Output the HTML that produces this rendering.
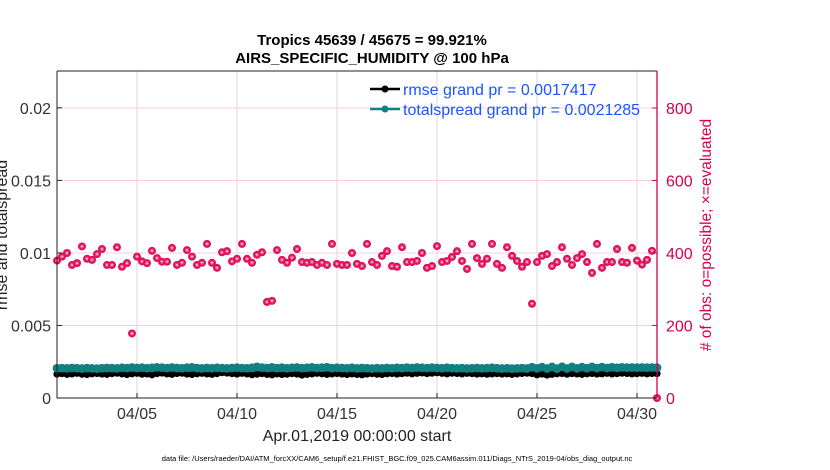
<!DOCTYPE html>
<html><head><meta charset="utf-8">
<style>
html,body{margin:0;padding:0;background:#fff;}
svg{display:block;font-family:"Liberation Sans",Arial,sans-serif;}
</style></head>
<body>
<svg id="chart" width="830" height="470" viewBox="0 0 830 470">
  <text x="372" y="45" text-anchor="middle" font-size="15" font-weight="bold">Tropics 45639 / 45675 = 99.921%</text>
  <text x="372" y="63" text-anchor="middle" font-size="15" font-weight="bold">AIRS_SPECIFIC_HUMIDITY @ 100 hPa</text>
  <g id="grid"></g>
  <g id="marks"></g>
  <g id="axes"></g>
  <text transform="translate(7,235) rotate(-90)" text-anchor="middle" font-size="16" fill="#222">rmse and totalspread</text>
  <text transform="translate(711,235) rotate(-90)" text-anchor="middle" font-size="15.5" fill="#d6004f"># of obs: o=possible; ×=evaluated</text>
  <text x="357" y="441" text-anchor="middle" font-size="16" fill="#222">Apr.01,2019 00:00:00 start</text>
  <text x="397" y="461" text-anchor="middle" font-size="7.5" fill="#000">data file: /Users/raeder/DAI/ATM_forcXX/CAM6_setup/f.e21.FHIST_BGC.f09_025.CAM6assim.011/Diags_NTrS_2019-04/obs_diag_output.nc</text>
  <g>
    <line x1="370" y1="89" x2="400" y2="89" stroke="#000" stroke-width="2.5"/>
    <circle cx="385" cy="89" r="3.5" fill="#000"/>
    <text x="403" y="95" font-size="16" fill="#1a55ff">rmse grand pr = 0.0017417</text>
    <line x1="370" y1="109" x2="400" y2="109" stroke="#138080" stroke-width="2.5"/>
    <circle cx="385" cy="109" r="3.5" fill="#138080"/>
    <text x="403" y="115" font-size="16" fill="#1a55ff">totalspread grand pr = 0.0021285</text>
  </g>
</svg>
<script>
const xTickLabels = ["04/05","04/10","04/15","04/20","04/25","04/30"];
const xTickDays = [4,9,14,19,24,29];
const leftTicks = [0,0.005,0.01,0.015,0.02];
const leftTickLabels = ["0","0.005","0.01","0.015","0.02"];
const rightTicks = [0,200,400,600,800];
const obsCount = [379,390,400,367,372,418,384,381,397,411,367,367,416,362,372,178,390,377,372,406,386,376,376,414,367,373,408,390,367,373,425,373,359,402,405,377,384,425,384,373,395,402,265,268,408,381,373,387,411,375,373,375,367,373,367,425,370,
367,367,400,370,364,425,375,367,392,405,364,362,416,375,375,378,400,359,364,419,375,378,389,405,378,356,425,386,370,384,425,370,359,416,392,378,362,375,260,375,392,397,364,375,416,384,367,386,397,375,345,425,359,375,375,411,375,373,414,379,
368,381,406,0];
const rmse = [0.00165,0.00168,0.00163,0.00166,0.00170,0.00164,0.00162,0.00167,0.00169,0.00165,0.00163,0.00168,0.00171,0.00166,0.00162,0.00167,0.00170,0.00164,0.00166,0.00160,0.00168,0.00172,0.00166,0.00163,0.00169,0.00171,0.00165,0.00162,0.00167,0.00170,0.00166,0.00163,0.00168,0.00175,0.00172,0.00168,0.00165,0.00170,0.00166,0.00161,0.00164,0.00168,0.00163,0.00160,0.00166,0.00162,0.00164,0.00168,0.00165,0.00158,0.00163,0.00166,0.00170,0.00167,0.00163,0.00166,0.00169,
0.00165,0.00162,0.00166,0.00163,0.00160,0.00165,0.00168,0.00164,0.00162,0.00167,0.00169,0.00165,0.00168,0.00171,0.00167,0.00170,0.00173,0.00168,0.00171,0.00174,0.00170,0.00167,0.00171,0.00169,0.00166,0.00170,0.00168,0.00165,0.00167,0.00164,0.00166,0.00168,0.00165,0.00167,0.00163,0.00166,0.00169,0.00171,0.00168,0.00160,0.00165,0.00158,0.00163,0.00167,0.00169,0.00164,0.00168,0.00166,0.00163,0.00167,0.00169,0.00165,0.00167,0.00170,0.00166,0.00168,0.00171,0.00169,0.00166,0.00168,0.00170,0.00167,0.00169,0.00168];
const spread = [0.00205,0.00206,0.00204,0.00207,0.00205,0.00203,0.00206,0.00204,0.00202,0.00205,0.00207,0.00206,0.00204,0.00208,0.00206,0.00210,0.00207,0.00209,0.00205,0.00208,0.00211,0.00209,0.00206,0.00210,0.00207,0.00205,0.00209,0.00211,0.00206,0.00204,0.00207,0.00205,0.00208,0.00206,0.00204,0.00207,0.00209,0.00206,0.00205,0.00208,0.00214,0.00209,0.00207,0.00211,0.00206,0.00209,0.00205,0.00208,0.00210,0.00206,0.00208,0.00211,0.00207,0.00209,0.00212,0.00206,0.00208,
0.00207,0.00205,0.00208,0.00204,0.00207,0.00205,0.00203,0.00206,0.00204,0.00207,0.00205,0.00208,0.00206,0.00209,0.00207,0.00210,0.00208,0.00206,0.00209,0.00207,0.00205,0.00208,0.00206,0.00204,0.00206,0.00203,0.00205,0.00207,0.00204,0.00206,0.00208,0.00205,0.00203,0.00205,0.00202,0.00204,0.00206,0.00203,0.00212,0.00204,0.00213,0.00203,0.00214,0.00202,0.00215,0.00203,0.00214,0.00204,0.00213,0.00205,0.00214,0.00206,0.00213,0.00207,0.00212,0.00208,0.00211,0.00209,0.00210,0.00209,0.00210,0.00209,0.00210,0.00209];

const NS="http://www.w3.org/2000/svg";
const L=57, R=657, T=71, B=398;
const xS = d => L + (d/30)*(R-L);
const yL = v => B - v/0.02254*(B-T);
const yR = v => B - v/902*(B-T);
function mk(tag, attrs, parent){const e=document.createElementNS(NS,tag);for(const k in attrs)e.setAttribute(k,attrs[k]);parent.appendChild(e);return e;}
const grid=document.getElementById('grid'), marks=document.getElementById('marks'), axes=document.getElementById('axes');

xTickDays.forEach((d,i)=>{
  const g=mk('line',{x1:xS(d),x2:xS(d),y1:T,y2:B,stroke:'#d8d8d8','stroke-width':1},grid);
  
  
  const t=mk('line',{x1:xS(d),x2:xS(d),y1:B,y2:B-5,stroke:'#222'},axes);
  
  
  const lb=mk('text',{x:xS(d),y:B+21,'text-anchor':'middle','font-size':16,fill:'#333'},axes);
  lb.textContent=xTickLabels[i];
  
  
});
rightTicks.forEach(v=>{
  if(v>0){const g=mk('line',{x1:L,x2:R,y1:yR(v),y2:yR(v),stroke:'#f5d0dc','stroke-width':1},grid);
  
  }
  const t=mk('line',{x1:R,x2:R-5,y1:yR(v),y2:yR(v),stroke:'#d6004f'},axes);
  
  
  const lb=mk('text',{x:R+9,y:yR(v)+6,'font-size':16,fill:'#d6004f'},axes);
  lb.textContent=String(v);
  
  
});
leftTicks.forEach((v,i)=>{
  const t=mk('line',{x1:L,x2:L+5,y1:yL(v),y2:yL(v),stroke:'#222'},axes);
  
  
  const lb=mk('text',{x:L-6,y:yL(v)+6,'text-anchor':'end','font-size':16,fill:'#333'},axes);
  lb.textContent=leftTickLabels[i];
  
  
});
const frame=mk('path',{d:`M${L},${T}H${R}M${L},${T}V${B}H${R}`,fill:'none',stroke:'#222','stroke-width':1},axes);


const rax=mk('line',{x1:R,x2:R,y1:T,y2:B,stroke:'#d6004f','stroke-width':1.3},axes);



function series(vals,color,name,r){
  const pts=vals.map((v,i)=>xS(i*30/(vals.length-1)).toFixed(1)+','+yL(v).toFixed(1)).join(' ');
  const pl=mk('polyline',{points:pts,fill:'none',stroke:color,'stroke-width':3},marks);
  
  
  vals.forEach((v,i)=>{
    const c=mk('circle',{cx:xS(i*30/(vals.length-1)),cy:yL(v),r:r,fill:color},marks);
    
    
  });
}
series(rmse,'#000','rmse',3.6);
series(spread,'#138080','totalspread',4.4);

obsCount.forEach((v,i)=>{
  const x=xS(i*30/(obsCount.length-1)), y=yR(v);
  const g=mk('g',{},marks);
  
  
  mk('circle',{cx:x,cy:y,r:4,fill:'#e0105a'},g);
  mk('path',{d:`M${x-2},${y}H${x+2}M${x},${y-2}V${y+2}M${x-1.4},${y-1.4}L${x+1.4},${y+1.4}M${x-1.4},${y+1.4}L${x+1.4},${y-1.4}`,stroke:'#fff','stroke-width':0.4},g);
});
</script>
</body></html>
